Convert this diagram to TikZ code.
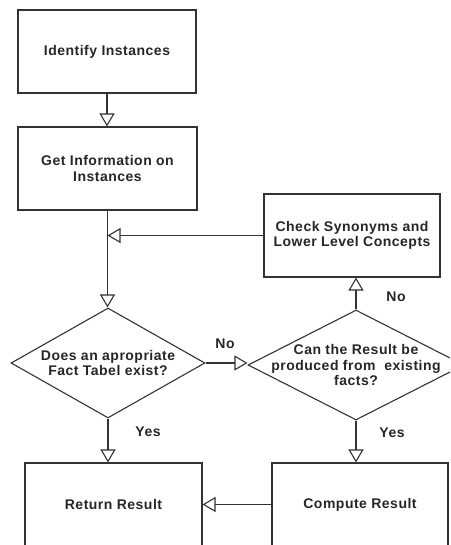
\documentclass[tikz,border=0pt]{standalone}
\usepackage{fontspec}
\setmainfont{Liberation Sans}[LetterSpace=3.5]
\usetikzlibrary{shapes.geometric,arrows.meta}
\begin{document}
\begin{tikzpicture}[x=1pt,y=-1pt,
  every node/.style={font=\bfseries\fontsize{14}{15.5}\selectfont, text=black!85},
  box/.style={draw=black!80, line width=1.1pt, minimum width=#1, minimum height=83pt, inner sep=0pt},
  dia/.style={draw=black!80, line width=1.1pt, diamond, inner sep=0pt, minimum width=#1, minimum height=110pt},
  txt/.style={align=center, inner sep=0pt},
  conn/.style={draw=black!80, line width=1.1pt, -{Triangle[open, length=13pt, width=15pt]}},
  lbl/.style={inner sep=0pt}]
\useasboundingbox (0,0) rectangle (450,545);
\begin{scope}
\clip (0,0) rectangle (450,545);
\node[box=178pt] (b1) at (107,51.5) {};
\node[txt] at (b1) {Identify Instances};
\node[box=179pt] (b2) at (107.5,168.5) {};
\node[txt] at (b2) {Get Information on\\Instances};
\node[box=176pt] (b3) at (352,235.5) {};
\node[txt] at (b3) {Check Synonyms and\\Lower Level Concepts};
\node[dia=194pt] (d1) at (108,363) {};
\node[txt] at (d1) {Does an apropriate\\Fact Tabel exist?};
\node[dia=216pt] (d2) at (356,365) {};
\node[txt] at (d2) {Can the Result be\\produced from \ existing\\facts?};
\node[box=177pt] (b4) at (113.5,504.5) {};
\node[txt] at (b4) {Return Result};
\node[box=176pt] (b5) at (360,504.5) {};
\node[txt] at (b5) {Compute Result};
\coordinate (j) at (b2.south |- b3.west);

\draw[conn] (b1.south -| 107,0) -- (b2.north -| 107,0);
\draw[conn] (b2.south) -- (b2.south |- d1.north);
\draw[conn] (b3.west) -- (j);
\draw[conn] (d1.east) -- (d1.east -| d2.west);
\draw[conn] (d2.north) -- (d2.north |- b3.south);
\draw[conn] (d1.south) -- (d1.south |- b4.north);
\draw[conn] (d2.south) -- (d2.south |- b5.north);
\draw[conn] (b5.west) -- (b4.east);

\node[lbl] at (225,344) {No};
\node[lbl] at (396,297) {No};
\node[lbl] at (148,432) {Yes};
\node[lbl] at (392,433) {Yes};
\end{scope}
\end{tikzpicture}
\end{document}
